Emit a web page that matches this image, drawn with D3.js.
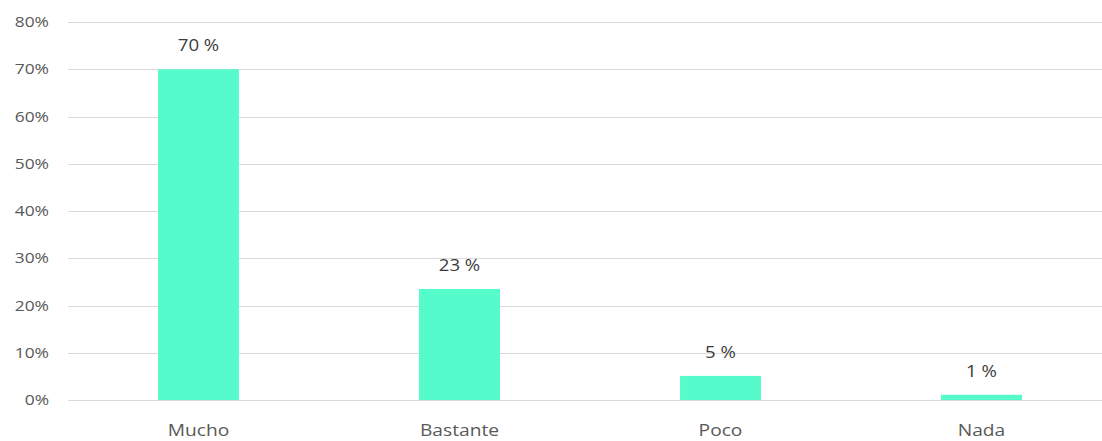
<!DOCTYPE html>
<html>
<head>
<meta charset="utf-8">
<script src="https://cdn.jsdelivr.net/npm/d3@7"></script>
<style>
  body { margin: 0; background: #fff; }
  svg { display: block; }
  text { font-family: "Open Sans", "Noto Sans", sans-serif; }
</style>
</head>
<body>
<svg id="chart" width="1102" height="441"></svg>
<script>
// chart data
var categories = ['Mucho', 'Bastante', 'Poco', 'Nada']
var values = [70, 23.5, 5.1, 1.1]
var valueLabels = ['70 %', '23 %', '5 %', '1 %']
var yTicks = [0, 10, 20, 30, 40, 50, 60, 70, 80]

var width = 1102, height = 441
var plotLeft = 68, plotRight = 1112, plotTop = 22, plotBottom = 400
var stretch = 1.2 // the reference text is a little wide

var svg = d3.select('#chart')

var x = d3.scaleBand().domain(categories).range([plotLeft, plotRight]).paddingInner(0.69).paddingOuter(0.345)
var y = d3.scaleLinear().domain([0, 80]).range([plotBottom, plotTop])

/* gridlines */
svg.append('g').selectAll('line').data(yTicks).enter().append('line')
	.attr('x1', plotLeft).attr('x2', width)
	.attr('y1', function(d) { return Math.round(y(d)) + 0.5 })
	.attr('y2', function(d) { return Math.round(y(d)) + 0.5 })
	.style('stroke', '#d9d9d9').style('stroke-width', 1)

/* y tick labels */
svg.append('g').selectAll('text').data(yTicks).enter().append('text')
	.attr('transform', function(d) { return 'translate(49,' + (y(d) + 5) + ') scale(' + stretch + ',1)' })
	.attr('text-anchor', 'end')
	.style('font-size', '14.5px').style('fill', '#595959')
	.text(function(d) { return d + '%' })

/* bars */
svg.append('g').selectAll('rect').data(values).enter().append('rect')
	.attr('x', function(d, i) { return x(categories[i]) })
	.attr('width', x.bandwidth())
	.attr('y', function(d) { return y(d) })
	.attr('height', function(d) { return plotBottom - y(d) })
	.style('fill', '#55FBCA')

/* value labels */
svg.append('g').selectAll('text').data(values).enter().append('text')
	.attr('transform', function(d, i) {
		return 'translate(' + (x(categories[i]) + x.bandwidth() / 2) + ',' + (y(d) - 18) + ') scale(' + stretch + ',1)'
	})
	.attr('text-anchor', 'middle')
	.style('font-size', '15.5px').style('fill', '#3a3a3a')
	.text(function(d, i) { return valueLabels[i] })

/* category labels */
svg.append('g').selectAll('text').data(categories).enter().append('text')
	.attr('transform', function(d) { return 'translate(' + (x(d) + x.bandwidth() / 2) + ',436) scale(' + stretch + ',1)' })
	.attr('text-anchor', 'middle')
	.style('font-size', '16px').style('fill', '#595959')
	.text(function(d) { return d })
</script>
</body>
</html>
